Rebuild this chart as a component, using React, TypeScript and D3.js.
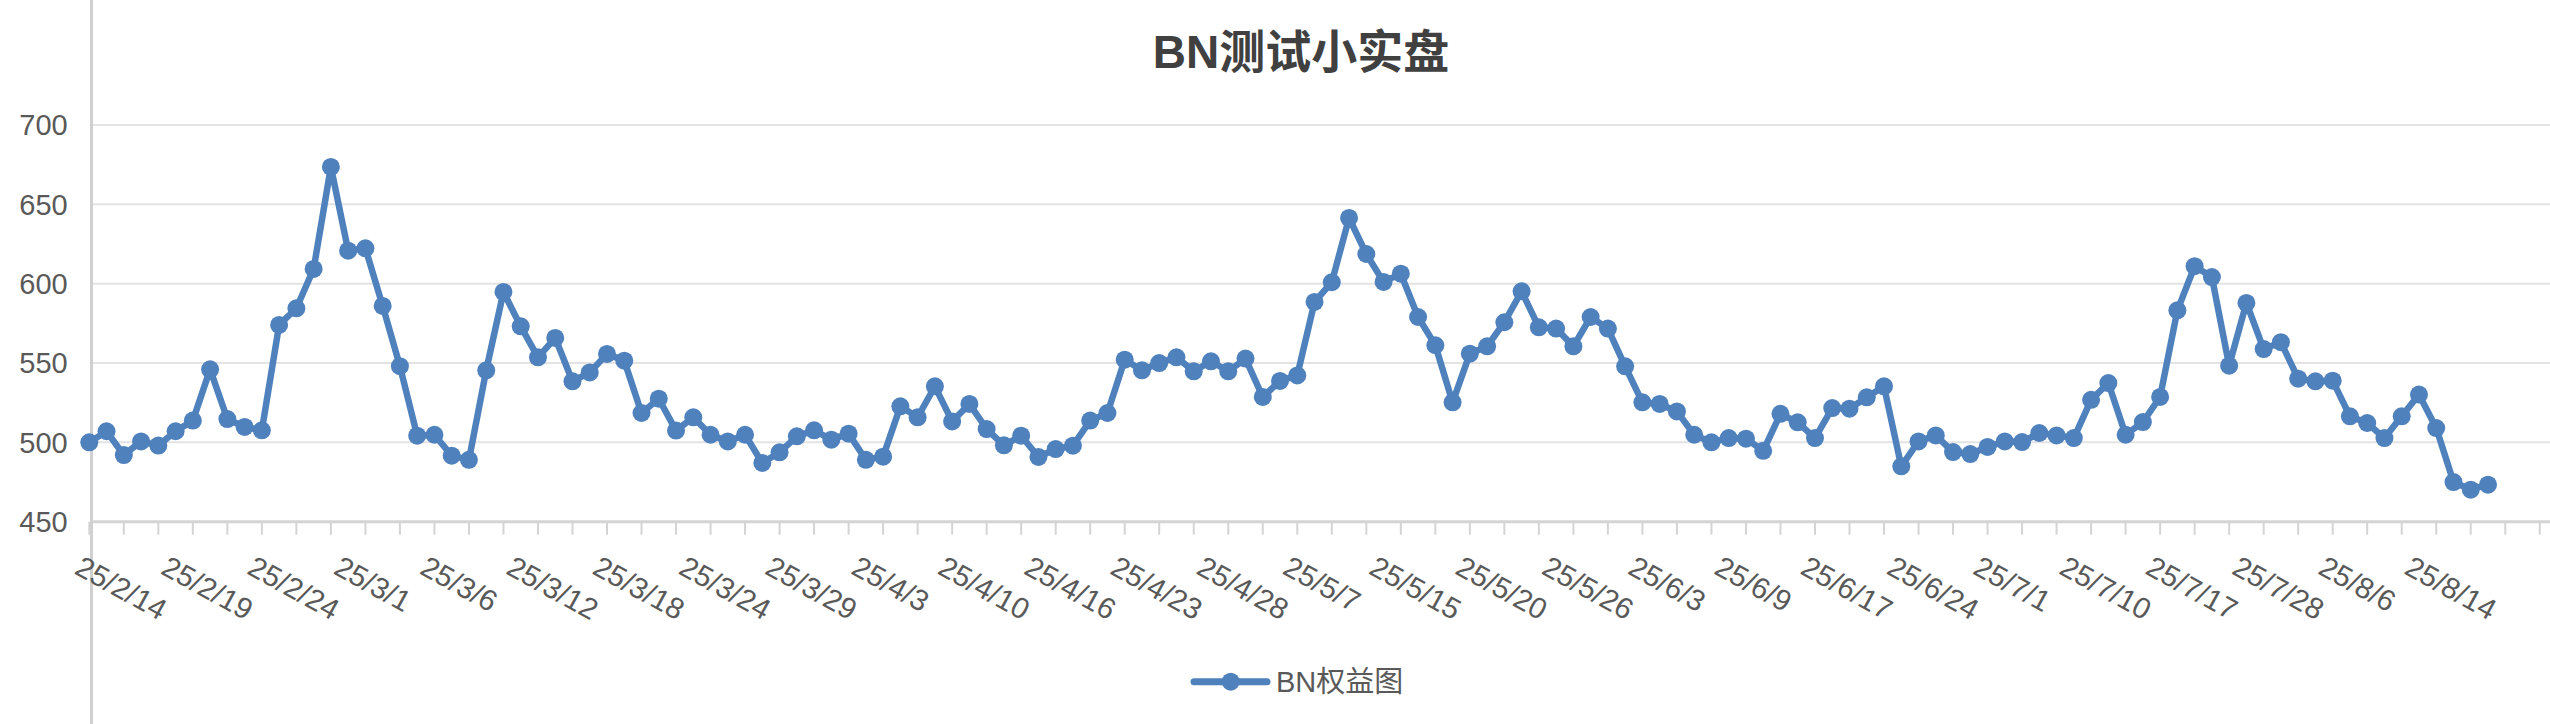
import React from "react";
import * as d3 from "d3";

const title = "BN测试小实盘";
const seriesName = "BN权益图";

const equity: number[] = [
  500, 507, 492, 500.6, 498, 507, 513.7, 546, 514.7, 509.7,
  507.6, 574, 584.5, 609.3, 673.6, 620.8, 622.3, 586, 548, 504.2,
  504.8, 491.6, 489, 545.4, 594.8, 573.1, 553.6, 565.8, 538.5, 544.1,
  555.7, 551.5, 518.5, 527.5, 507.4, 515.8, 504.8, 500.6, 504.8, 487,
  493.7, 503.8, 507.6, 501.7, 505.5, 489, 491, 522.7, 515.8, 535.3,
  513.2, 524.2, 508.4, 498.1, 504.2, 490.8, 495.8, 497.9, 513.7, 518.5,
  552.1, 545.4, 550, 553.6, 544.8, 551.1, 544.8, 552.8, 528.6, 538.7,
  542.2, 588.5, 600.9, 641.4, 618.7, 601.1, 606.3, 579, 561.2, 525.2,
  555.9, 560.5, 575.7, 595.2, 572.5, 571.7, 560.5, 579, 571.7, 547.9,
  525.2, 524.2, 519.5, 504.8, 500, 502.7, 502.3, 494.7, 518, 512.6,
  502.7, 521.6, 521.2, 528.4, 535.3, 484.9, 500.6, 504.4, 493.9, 492.6,
  497.1, 500.6, 500.2, 505.9, 504.4, 502.7, 526.8, 537.4, 504.8, 512.8,
  528.6, 583.2, 611, 604.2, 548.3, 587.9, 558.8, 563.1, 540.1, 538.5,
  538.9, 516.4, 512.2, 502.7, 516.4, 530.1, 509, 475, 470.2, 473.3,
];

// labels shown every 5 categories
const dateLabels: string[] = [
  "25/2/14", "25/2/19", "25/2/24", "25/3/1", "25/3/6", "25/3/12", "25/3/18",
  "25/3/24", "25/3/29", "25/4/3", "25/4/10", "25/4/16", "25/4/23", "25/4/28",
  "25/5/7", "25/5/15", "25/5/20", "25/5/26", "25/6/3", "25/6/9", "25/6/17",
  "25/6/24", "25/7/1", "25/7/10", "25/7/17", "25/7/28", "25/8/6", "25/8/14",
];
const labelEvery = 5;
const tickEvery = 2;
const yTicks: number[] = [450, 500, 550, 600, 650, 700];

const W = 2550;
const H = 724;
const FONT = "'Liberation Sans', Arial, 'Noto Sans CJK SC', sans-serif";
const BLUE = "#4f81bd";

export default function App() {
  const n = equity.length;
  const x = d3.scaleLinear().domain([0, n - 1]).range([89.3, 2488]);
  const y = d3.scaleLinear().domain([450, 700]).range([521.7, 125]);
  const axisLeft = 91.5;
  const axisRight = W;
  const maxIdx = Math.floor(x.invert(axisRight - 2));
  const tickIdx = d3.range(0, maxIdx + 1, tickEvery);

  const line = d3
    .line<number>()
    .x((_, i) => x(i))
    .y((d) => y(d));

  return (
    <div style={{ position: "absolute", left: 0, top: 0 }}>
      <svg width={W} height={H} style={{ display: "block", background: "#fff" }}>
        {/* gridlines */}
        {yTicks.slice(1).map((t) => (
          <line key={t} x1={axisLeft} x2={axisRight} y1={y(t)} y2={y(t)} stroke="#e3e3e3" strokeWidth={2} />
        ))}
        {/* x axis */}
        <line x1={axisLeft} x2={axisRight} y1={y(450)} y2={y(450)} stroke="#d4d4d4" strokeWidth={3} />
        {tickIdx.map((i) => (
          <line key={i} x1={x(i)} x2={x(i)} y1={y(450)} y2={y(450) + 13} stroke="#d4d4d4" strokeWidth={2} />
        ))}
        {/* left vertical axis line */}
        <line x1={axisLeft} x2={axisLeft} y1={0} y2={H} stroke="#d0d0d0" strokeWidth={3} />
        {/* y labels */}
        {yTicks.map((t) => (
          <text key={t} x={67.7} y={y(t)} dy="0.36em" textAnchor="end" fontFamily={FONT} fontSize={29} fill="#595959">
            {t}
          </text>
        ))}
        {/* x labels */}
        {dateLabels.map((lab, k) => {
          const i = k * labelEvery;
          return (
            <text
              key={lab}
              transform={`translate(${x(i) - 16},${573}) rotate(29)`}
              fontFamily={FONT}
              fontSize={29.5}
              fill="#595959"
            >
              {lab}
            </text>
          );
        })}
        {/* series */}
        <path d={line(equity) || ""} fill="none" stroke={BLUE} strokeWidth={6.5} strokeLinejoin="round" strokeLinecap="round" />
        {equity.map((v, i) => (
          <circle key={i} cx={x(i)} cy={y(v)} r={9} fill={BLUE} />
        ))}
        {/* title */}
        <text x={1301} y={68} textAnchor="middle" fontFamily={FONT} fontSize={46} fontWeight="bold" fill="#404040">
          {title}
        </text>
        {/* legend */}
        <line x1={1194} x2={1267} y1={681.7} y2={681.7} stroke={BLUE} strokeWidth={7} strokeLinecap="round" />
        <circle cx={1230.7} cy={681.7} r={9} fill={BLUE} />
        <text x={1276} y={681.7} dy="0.36em" fontFamily={FONT} fontSize={29} fill="#595959">
          {seriesName}
        </text>
      </svg>
    </div>
  );
}
